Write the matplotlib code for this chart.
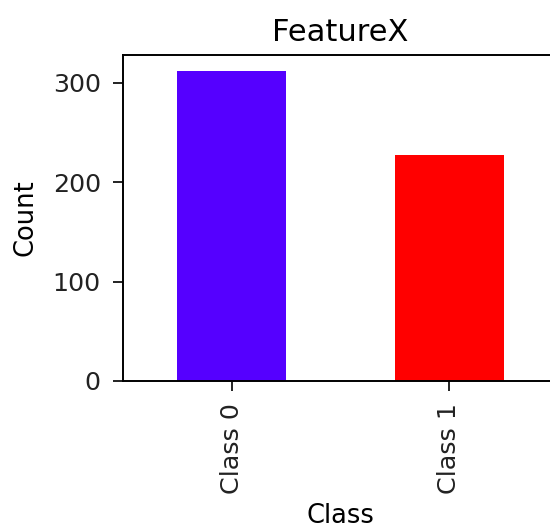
import matplotlib
matplotlib.use("Agg")
import matplotlib.pyplot as plt

categories = ["Class 0", "Class 1"]
counts = [312, 227]
colors = ["#5500ff", "#ff0000"]
title = "FeatureX"
xlabel = "Class"
ylabel = "Count"

fig = plt.figure(figsize=(5.5, 5.29), dpi=100)
ax = fig.add_axes([0.2236, 0.2798, 0.7909, 0.6162])
x = list(range(len(categories)))
ax.bar(x, counts, width=0.5, color=colors)
ax.set_xlim(-0.5, 1.5)
ax.set_ylim(0, 328)
ax.set_yticks([0, 100, 200, 300])
ax.set_xticks(x)
ax.set_xticklabels(categories, rotation=90)
ax.tick_params(labelsize=18.3, length=7, width=1.4, pad=9, colors="#222222", labelcolor="#222222")
for s in ax.spines.values():
    s.set_linewidth(1.4)
ax.set_title(title, fontsize=22, pad=10)
ax.set_xlabel(xlabel, fontsize=18.5, labelpad=6)
ax.set_ylabel(ylabel, fontsize=18.5, labelpad=10)
fig.savefig("out.png", dpi=100)
